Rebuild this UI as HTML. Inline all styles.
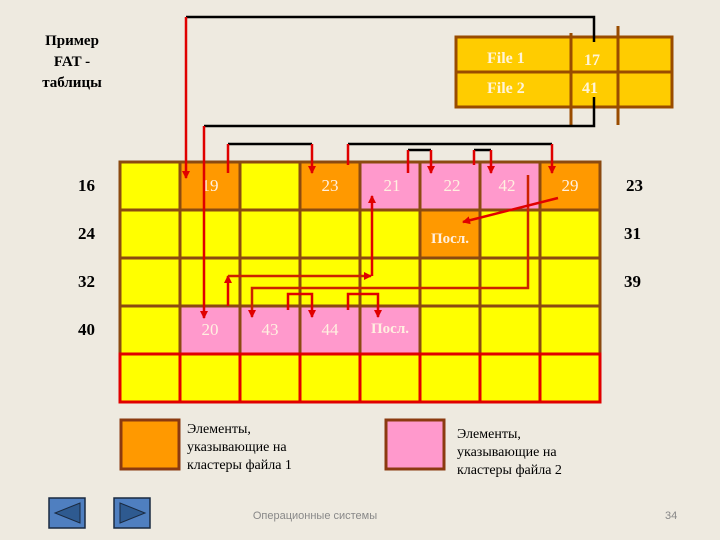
<!DOCTYPE html>
<html><head><meta charset="utf-8"><style>
body{margin:0;background:#EEEAE0;}
svg{display:block}
.s{font-family:"Liberation Serif",serif;}
</style></head><body>
<svg width="720" height="540" viewBox="0 0 720 540" xmlns="http://www.w3.org/2000/svg">
<defs><marker id="a" markerWidth="8" markerHeight="8" refX="7" refY="4" orient="auto" markerUnits="userSpaceOnUse"><path d="M0,0L8,4L0,8z" fill="#E00000"/></marker></defs>
<rect width="720" height="540" fill="#EEEAE0"/>
<g class="s" font-weight="bold" font-size="15" text-anchor="middle" fill="#000">
<text x="72" y="45">Пример</text><text x="72" y="66">FAT -</text><text x="72" y="87">таблицы</text>
</g>
<!-- FAT table -->
<rect x="456" y="37" width="216" height="70" fill="#FFCC00" stroke="#994C00" stroke-width="3"/>
<line x1="456" y1="72" x2="672" y2="72" stroke="#994C00" stroke-width="3"/>
<line x1="571" y1="33" x2="571" y2="125" stroke="#994C00" stroke-width="3"/>
<line x1="618" y1="26" x2="618" y2="125" stroke="#994C00" stroke-width="3"/>
<g class="s" font-size="16" fill="#FFF4D8" font-weight="bold">
<text x="487" y="63">File 1</text><text x="487" y="93">File 2</text>
<text x="584" y="65">17</text><text x="582" y="93">41</text>
</g>
<!-- grid -->
<g stroke="#8B4A10" stroke-width="3">
<rect x="120" y="162" width="60" height="48" fill="#FFFF00"/>
<rect x="180" y="162" width="60" height="48" fill="#FF9900"/>
<rect x="240" y="162" width="60" height="48" fill="#FFFF00"/>
<rect x="300" y="162" width="60" height="48" fill="#FF9900"/>
<rect x="360" y="162" width="60" height="48" fill="#FF99CC"/>
<rect x="420" y="162" width="60" height="48" fill="#FF99CC"/>
<rect x="480" y="162" width="60" height="48" fill="#FF99CC"/>
<rect x="540" y="162" width="60" height="48" fill="#FF9900"/>
<rect x="120" y="210" width="480" height="96" fill="#FFFF00"/>
<rect x="420" y="210" width="60" height="48" fill="#FF9900"/>
<rect x="120" y="306" width="480" height="48" fill="#FFFF00"/>
<rect x="180" y="306" width="240" height="48" fill="#FF99CC"/>
<line x1="120" y1="258" x2="600" y2="258"/>
<line x1="180" y1="210" x2="180" y2="354"/><line x1="240" y1="210" x2="240" y2="354"/>
<line x1="300" y1="210" x2="300" y2="354"/><line x1="360" y1="210" x2="360" y2="354"/>
<line x1="420" y1="210" x2="420" y2="354"/><line x1="480" y1="210" x2="480" y2="354"/>
<line x1="540" y1="210" x2="540" y2="354"/>
</g>
<g stroke="#E00000" stroke-width="3" fill="#FFFF00">
<rect x="120" y="354" width="480" height="48"/>
<line x1="180" y1="354" x2="180" y2="402"/><line x1="240" y1="354" x2="240" y2="402"/>
<line x1="300" y1="354" x2="300" y2="402"/><line x1="360" y1="354" x2="360" y2="402"/>
<line x1="420" y1="354" x2="420" y2="402"/><line x1="480" y1="354" x2="480" y2="402"/>
<line x1="540" y1="354" x2="540" y2="402"/>
</g>
<g class="s" font-size="17" fill="#FFF0E0" text-anchor="middle">
<text x="210" y="191">19</text><text x="330" y="191">23</text><text x="392" y="191">21</text>
<text x="452" y="191">22</text><text x="507" y="191">42</text><text x="570" y="191">29</text>
<text x="450" y="243" font-size="15" font-weight="bold">Посл.</text>
<text x="210" y="335">20</text><text x="270" y="335">43</text><text x="330" y="335">44</text>
<text x="390" y="333" font-size="15" font-weight="bold">Посл.</text>
</g>
<g class="s" font-size="17" font-weight="bold" fill="#000">
<text x="78" y="191">16</text><text x="78" y="239">24</text><text x="78" y="287">32</text><text x="78" y="335">40</text>
<text x="626" y="191">23</text><text x="624" y="239">31</text><text x="624" y="287">39</text>
</g>
<!-- connectors -->
<g fill="none" stroke-width="2.5">
<path d="M594,42V17H186" stroke="#000"/>
<path d="M186,17V178" stroke="#E00000" marker-end="url(#a)"/>
<path d="M594,97V126H204" stroke="#000"/>
<path d="M204,126V318" stroke="#E00000" marker-end="url(#a)"/>
<path d="M228,144H312" stroke="#000"/><path d="M228,173V144M312,144V173" stroke="#E00000" marker-end="url(#a)"/>
<path d="M348,144H552" stroke="#000"/><path d="M348,165V144M552,144V173" stroke="#E00000" marker-end="url(#a)"/>
<path d="M408,150H431" stroke="#000"/><path d="M408,173V150M431,150V173" stroke="#E00000" marker-end="url(#a)"/>
<path d="M474,150H491" stroke="#000"/><path d="M474,165V150M491,150V173" stroke="#E00000" marker-end="url(#a)"/>
<path d="M528,175V288H252V317" stroke="#CC2200" marker-end="url(#a)"/>
<path d="M558,198L463,222" stroke="#E00000" marker-end="url(#a)"/>
<path d="M288,310V294H312V317" stroke="#E00000" marker-end="url(#a)"/>
<path d="M348,310V294H378V317" stroke="#E00000" marker-end="url(#a)"/>
<path d="M228,306V276" stroke="#E00000" marker-end="url(#a)"/>
<path d="M228,276H371" stroke="#CC2200" marker-end="url(#a)"/>
<path d="M372,276V196" stroke="#E00000" marker-end="url(#a)"/>
</g>
<!-- legend -->
<rect x="121" y="420" width="58" height="49" fill="#FF9900" stroke="#8B3A10" stroke-width="3"/>
<rect x="386" y="420" width="58" height="49" fill="#FF99CC" stroke="#8B3A10" stroke-width="3"/>
<g class="s" font-size="14" fill="#000">
<text x="187" y="433">Элементы,</text><text x="187" y="451">указывающие на</text><text x="187" y="469">кластеры файла 1</text>
<text x="457" y="438">Элементы,</text><text x="457" y="456">указывающие на</text><text x="457" y="474">кластеры файла 2</text>
</g>
<!-- nav -->
<rect x="49" y="498" width="36" height="30" fill="#4F7FC0" stroke="#1A2A40" stroke-width="1.5"/>
<path d="M80,503V523L55,513z" fill="#2E5A90" stroke="#1A2A40"/>
<rect x="114" y="498" width="36" height="30" fill="#4F7FC0" stroke="#1A2A40" stroke-width="1.5"/>
<path d="M120,503V523L145,513z" fill="#2E5A90" stroke="#1A2A40"/>
<g font-family="Liberation Sans,sans-serif" font-size="11" fill="#888">
<text x="315" y="519" text-anchor="middle">Операционные системы</text>
<text x="665" y="519">34</text>
</g>
</svg>
</body></html>
